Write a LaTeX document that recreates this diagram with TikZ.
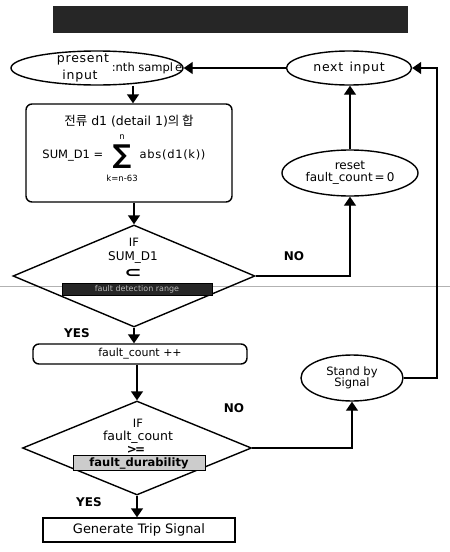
\documentclass[tikz,border=0pt]{standalone}
\usepackage{fontspec}
\setmainfont{DejaVu Sans}
\newfontfamily\kr{Noto Sans CJK KR}
\newfontfamily\wide{DejaVu Sans}[LetterSpace=6]
\usetikzlibrary{shapes.geometric,arrows.meta,positioning}
\begin{document}
\begin{tikzpicture}[x=1pt,y=-1pt,
  line width=1.4pt,
  arr/.style={-{Triangle[width=12pt,length=9pt]}},
  oval/.style={draw,ellipse,inner sep=0pt,align=center},
  rbox/.style={draw,rounded corners=6pt,inner sep=0pt,align=center},
  sbox/.style={draw,inner sep=0pt,align=center},
  dia/.style={draw,diamond,inner sep=0pt},
  lbl/.style={font=\fontsize{12}{13}\selectfont\bfseries,inner sep=0pt},
  dtxt/.style={font=\fontsize{11.5}{12}\selectfont,inner sep=0pt}
]
\useasboundingbox (0,0) rectangle (450,552);
% scan artifact line
\draw[gray!60,line width=0.5pt] (0,286) -- (450,286);
% title bar
\node[fill=black!85,minimum width=355,minimum height=27,inner sep=0pt] (title) at (230,19) {};

% top ellipses
\node[oval,minimum width=172,minimum height=34] (pres) at (97,68) {};
\node[inner sep=0pt,font=\wide\fontsize{12.5}{12}\selectfont] (prest) at (83,59) {present};
\node[inner sep=0pt,font=\wide\fontsize{12.5}{12}\selectfont] (inpt) at (80,76) {input};
\node[inner sep=0pt,font=\fontsize{11.5}{12}\selectfont] (nth) at (147,68) {:nth sampl\,e};
\node[oval,minimum width=125,minimum height=34,font=\wide\fontsize{12.5}{13}\selectfont] (next) at (349,68) {next\enspace input};

% sum box
\node[rbox,minimum width=206,minimum height=98] (sum) at (129,153) {};
\node[inner sep=0pt,font=\fontsize{12.5}{13}\selectfont] (sumt) at (129,121) {{\kr 전류} d1 (detail 1){\kr 의 합}};
\node[inner sep=0pt,font=\fontsize{11.5}{12}\selectfont,anchor=east] (sumf) at (104,156) {SUM\_D1 =};
\node[inner sep=0pt,font=\fontsize{26}{26}\selectfont\bfseries] (sig) at (122,157) {∑};
\node[inner sep=0pt,font=\fontsize{8.5}{9}\selectfont] (sup) at (122,137) {n};
\node[inner sep=0pt,font=\fontsize{8.5}{9}\selectfont] (sub) at (122,178) {k=n-63};
\node[inner sep=0pt,font=\wide\fontsize{11.5}{12}\selectfont,anchor=west] (sumg) at (139,155) {abs(d1(k))};

\node[oval,minimum width=136,minimum height=46,font=\fontsize{12}{13}\selectfont] (reset) at (350,173)
  {reset\\[-1pt]fault\_count\,=\,0};

% diamond 1
\node[dia,minimum width=242,minimum height=102] (d1) at (134,276) {};
\node[dtxt] (d1a) at (134,242) {IF};
\node[dtxt,font=\fontsize{12}{12}\selectfont] (d1b) at (133,257) {SUM\_D1};
\node[inner sep=0pt,font=\fontsize{16}{16}\selectfont\bfseries] (d1c) at (133,273) {\scalebox{1.3}[0.9]{⊂}};
\node[fill=black!85,draw,line width=0.8pt,minimum width=150,minimum height=12,inner sep=0pt,
  text=gray!55,font=\fontsize{8}{8}\selectfont] (d1d) at (137,289) {fault detection range};

% count box
\node[rbox,minimum width=214,minimum height=20,font=\fontsize{11}{12}\selectfont] (cnt) at (140,354) {fault\_count ++};
\node[oval,minimum width=102,minimum height=46,font=\fontsize{11.5}{12.5}\selectfont] (stand) at (352,378) {Stand by\\[-1pt]Signal};

% diamond 2
\node[dia,minimum width=229,minimum height=94] (d2) at (137,448) {};
\node[dtxt] (d2a) at (138,423) {IF};
\node[dtxt,font=\fontsize{12.5}{13}\selectfont] (d2b) at (138,437) {fault\_count};
\node[dtxt,font=\fontsize{12}{12}\selectfont\bfseries] (d2c) at (136,450) {>\kern-2pt=};
\node[fill=gray!40,draw,line width=0.8pt,minimum width=132,minimum height=15,inner sep=0pt,
  font=\fontsize{11.5}{11.5}\selectfont\bfseries] (d2d) at (139,463) {fault\_durability};

\node[sbox,minimum width=192,minimum height=24,font=\fontsize{13}{14}\selectfont] (gen) at (139,530) {Generate Trip Signal};

% labels
\node[lbl] (no1) at (294,256) {NO};
\node[lbl] (yes1) at (77,333) {YES};
\node[lbl] (no2) at (234,408) {NO};
\node[lbl] (yes2) at (89,502) {YES};

\coordinate (rc) at (437,68);

% connectors
\draw[arr] (next.west) -- (pres.east);
\draw[arr] (pres.south -| 133,0) -- (sum.north -| 133,0);
\draw[arr] (sum.south -| d1.north) -- (d1.north);
\draw[arr] (d1.east) -| (reset.south);
\draw[arr] (reset.north) -- (next.south -| reset.north);
\draw[arr] (d1.south) -- (d1.south |- cnt.north);
\draw[arr] (cnt.south -| d2.north) -- (d2.north);
\draw[arr] (d2.east) -| (stand.south);
\draw[arr] (d2.south) -- (d2.south |- gen.north);
\draw[arr] (stand.east) -| (rc) -- (next.east);
\end{tikzpicture}
\end{document}
